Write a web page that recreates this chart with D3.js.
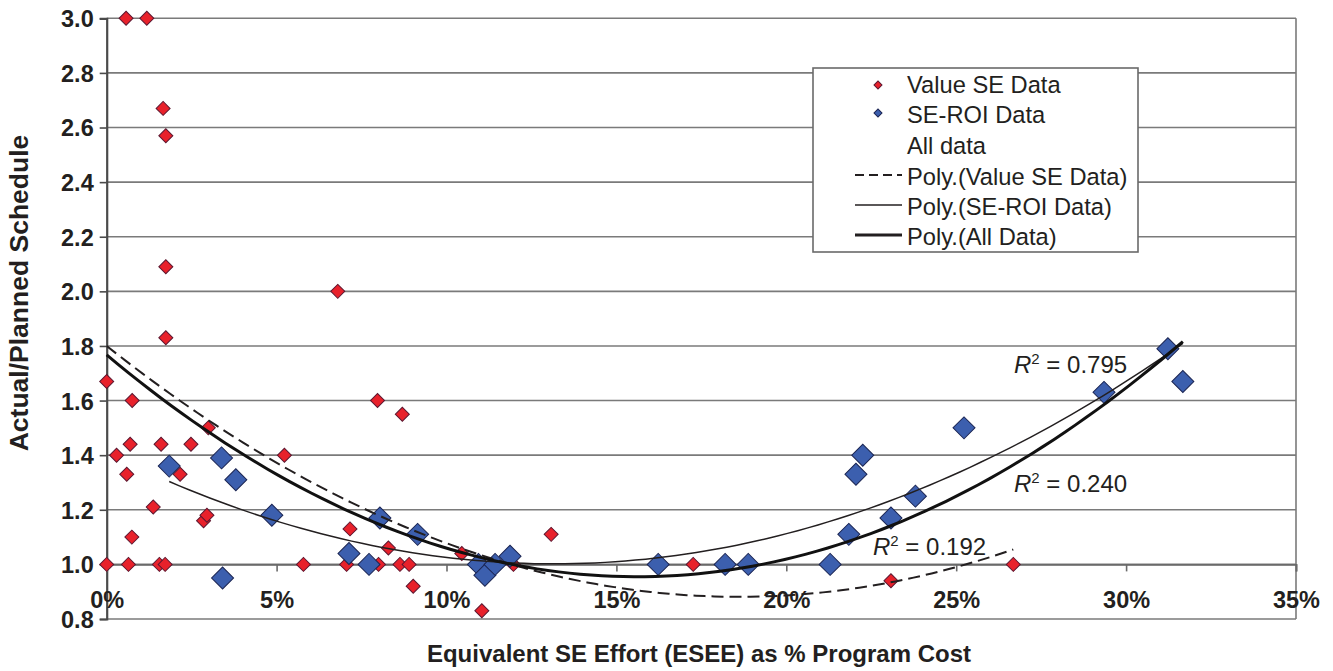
<!DOCTYPE html>
<html>
<head>
<meta charset="utf-8">
<script src="https://cdn.jsdelivr.net/npm/d3@7"></script>
<style>
  html, body { margin: 0; padding: 0; background: #fff; }
  svg { display: block; font-family: "Liberation Sans", Arial, Helvetica, sans-serif; }
</style>
</head>
<body>
<svg id="chart" width="1333" height="671"></svg>
<script>
// Value SE study points: effort (% of program cost) and actual/planned schedule
const valueSeX = [0.57, 1.18, 1.66, 1.74, 1.74, 6.8, 1.74, 0.0, 0.75, 0.69, 0.29, 0.59, 0.74, 0.0, 0.64,
                  1.6, 1.37, 1.55, 1.72, 2.16, 2.48, 2.99, 2.85, 2.95, 5.23, 5.79, 7.06, 7.16, 7.97, 8.7,
                  8.0, 8.29, 8.63, 8.9, 9.02, 10.45, 11.04, 11.97, 13.08, 17.26, 23.08, 26.68];
const valueSeY = [3.0, 3.0, 2.67, 2.57, 2.09, 2.0, 1.83, 1.67, 1.6, 1.44, 1.4, 1.33, 1.1, 1.0, 1.0,
                  1.44, 1.21, 1.0, 1.0, 1.33, 1.44, 1.5, 1.16, 1.18, 1.4, 1.0, 1.0, 1.13, 1.6, 1.55,
                  1.0, 1.06, 1.0, 1.0, 0.92, 1.04, 0.83, 1.0, 1.11, 1.0, 0.94, 1.0];

// SE-ROI study points
const roiX = [1.84, 3.38, 3.8, 3.41, 4.86, 7.13, 7.72, 8.04, 9.15, 10.94, 11.13, 11.43, 11.87, 16.23,
              18.2, 18.88, 21.29, 21.84, 22.05, 22.25, 23.08, 23.8, 25.23, 29.35, 31.23, 31.67];
const roiY = [1.36, 1.39, 1.31, 0.95, 1.18, 1.04, 1.0, 1.17, 1.11, 1.0, 0.96, 1.0, 1.03, 1.0,
              1.0, 1.0, 1.0, 1.11, 1.33, 1.4, 1.17, 1.25, 1.5, 1.63, 1.79, 1.67];

// Second-order trend coefficients [c0, c1, c2] (x in percent) as published with the chart
const trendValueSe = [1.800, -0.0988, 0.002656];
const trendRoi = [1.4094, -0.06195, 0.002355];
const trendAll = [1.767, -0.1041, 0.003336];

// Axis ticks
const xTicks = [0, 5, 10, 15, 20, 25, 30, 35];
const yTicks = [0.8, 1.0, 1.2, 1.4, 1.6, 1.8, 2.0, 2.2, 2.4, 2.6, 2.8, 3.0];

// Reported goodness of fit for each quadratic trend
const rSquared = { value: "0.192", roi: "0.795", all: "0.240" };

const legendLabels = ["Value SE Data", "SE-ROI Data", "All data",
                      "Poly.(Value SE Data)", "Poly.(SE-ROI Data)", "Poly.(All Data)"];

const svg = d3.select("#chart");
const plotL = 106.7, plotR = 1296, plotT = 18.3, plotB = 619;

const x = d3.scaleLinear().domain([0, 35]).range([plotL, plotR]);
const y = d3.scaleLinear().domain([0.8, 3.0]).range([plotB, plotT]);

// Gridlines
svg.append("g").selectAll("line").data(yTicks).join("line")
  .attr("x1", plotL).attr("x2", plotR)
  .attr("y1", d => y(d)).attr("y2", d => y(d))
  .attr("stroke", "#7a7a7a").attr("stroke-width", 1.6);

// Right frame edge
svg.append("line").attr("x1", plotR).attr("x2", plotR).attr("y1", plotT).attr("y2", plotB)
  .attr("stroke", "#7a7a7a").attr("stroke-width", 1.6);

// Y axis
const yAxis = svg.append("g").attr("transform", `translate(${plotL},0)`)
  .call(d3.axisLeft(y).tickValues(yTicks).tickSize(7).tickFormat(d3.format(".1f")));
yAxis.select(".domain").attr("stroke", "#4a4a4a").attr("stroke-width", 2.2);
yAxis.selectAll(".tick line").attr("stroke", "#4a4a4a").attr("stroke-width", 1.6);
yAxis.selectAll(".tick text").attr("x", -13).attr("dy", "0.36em")
  .attr("font-size", 23.5).attr("font-weight", "bold").attr("fill", "#231f20")
  .attr("font-family", "'Liberation Sans', Arial, sans-serif");

// X axis crossing at 1.0
const xAxis = svg.append("g").attr("transform", `translate(0,${y(1.0)})`)
  .call(d3.axisBottom(x).tickValues(xTicks).tickSize(7).tickFormat(d => d + "%"));
xAxis.select(".domain").attr("stroke", "#6a6a6a").attr("stroke-width", 1.8);
xAxis.selectAll(".tick line").attr("stroke", "#6a6a6a").attr("stroke-width", 1.6);
xAxis.selectAll(".tick text").attr("y", 44).attr("dy", 0)
  .attr("font-size", 23.5).attr("font-weight", "bold").attr("fill", "#231f20")
  .attr("font-family", "'Liberation Sans', Arial, sans-serif");

// Axis titles
svg.append("text").attr("transform", "translate(28,293) rotate(-90)")
  .attr("text-anchor", "middle").attr("font-size", 26.5).attr("font-weight", "bold").attr("fill", "#231f20")
  .text("Actual/Planned Schedule");
svg.append("text").attr("x", 699).attr("y", 662)
  .attr("text-anchor", "middle").attr("font-size", 24).attr("font-weight", "bold").attr("fill", "#231f20")
  .text("Equivalent SE Effort (ESEE) as % Program Cost");

// Diamond markers
const diamond = (half) => d3.symbol(d3.symbolSquare, 2 * half * half);

const redPts = valueSeX.map((v, i) => [v, valueSeY[i]]);
const bluePts = roiX.map((v, i) => [v, roiY[i]]);

svg.append("g").selectAll("path").data(redPts).join("path")
  .attr("d", diamond(7)())
  .attr("transform", d => `translate(${x(d[0])},${y(d[1])}) rotate(45)`)
  .attr("fill", "#e8212b").attr("stroke", "#5c1730").attr("stroke-width", 1);

svg.append("g").selectAll("path").data(bluePts).join("path")
  .attr("d", diamond(11)())
  .attr("transform", d => `translate(${x(d[0])},${y(d[1])}) rotate(45)`)
  .attr("fill", "#3c5fae").attr("stroke", "#1b2553").attr("stroke-width", 1);

// Quadratic trend curves spanning each series' x range
function trend(coef, xs) {
  const lo = d3.min(xs), hi = d3.max(xs);
  return d3.range(0, 101).map(i => {
    const t = lo + (hi - lo) * i / 100;
    return [t, coef[0] + coef[1] * t + coef[2] * t * t];
  });
}
const line = d3.line().x(d => x(d[0])).y(d => y(d[1]));
const allX = valueSeX.concat(roiX);

svg.append("path").datum(trend(trendValueSe, valueSeX)).attr("d", line)
  .attr("fill", "none").attr("stroke", "#231f20").attr("stroke-width", 2).attr("stroke-dasharray", "12,6");
svg.append("path").datum(trend(trendRoi, roiX)).attr("d", line)
  .attr("fill", "none").attr("stroke", "#231f20").attr("stroke-width", 1.5);
svg.append("path").datum(trend(trendAll, allX)).attr("d", line)
  .attr("fill", "none").attr("stroke", "#111").attr("stroke-width", 3);

// R-squared annotations
function r2Label(xp, yp, val) {
  const t = svg.append("text").attr("x", xp).attr("y", yp).attr("font-size", 24).attr("fill", "#231f20");
  t.append("tspan").attr("font-style", "italic").text("R");
  t.append("tspan").attr("font-size", 15).attr("dy", -9).text("2");
  t.append("tspan").attr("dy", 9).text(" = " + val);
}
r2Label(1014, 373, rSquared.roi);
r2Label(1014, 492, rSquared.all);
r2Label(873, 555, rSquared.value);

// Legend
const lg = svg.append("g");
lg.append("rect").attr("x", 813).attr("y", 68).attr("width", 325).attr("height", 184)
  .attr("fill", "#fff").attr("stroke", "#6a6a6a").attr("stroke-width", 1.6);
const rowY = [84, 114, 145, 176, 206, 236];
lg.selectAll("text").data(legendLabels).join("text")
  .attr("x", 907).attr("y", (d, i) => rowY[i] + 8.5)
  .attr("font-size", 23.7).attr("fill", "#231f20").text(d => d);
lg.append("path").attr("d", diamond(4)())
  .attr("transform", `translate(878,${rowY[0] + 1}) rotate(45)`)
  .attr("fill", "#e8212b").attr("stroke", "#5c1730").attr("stroke-width", 1);
lg.append("path").attr("d", diamond(4)())
  .attr("transform", `translate(878,${rowY[1] - 1}) rotate(45)`)
  .attr("fill", "#3c5fae").attr("stroke", "#1b2553").attr("stroke-width", 1);
const lineStyles = [{ w: 2, dash: "9,5" }, { w: 1.5, dash: null }, { w: 3, dash: null }];
lineStyles.forEach((s, i) => {
  lg.append("line").attr("x1", 855).attr("x2", 902)
    .attr("y1", rowY[3 + i] - 1).attr("y2", rowY[3 + i] - 1)
    .attr("stroke", "#231f20").attr("stroke-width", s.w).attr("stroke-dasharray", s.dash);
});
</script>
</body>
</html>
